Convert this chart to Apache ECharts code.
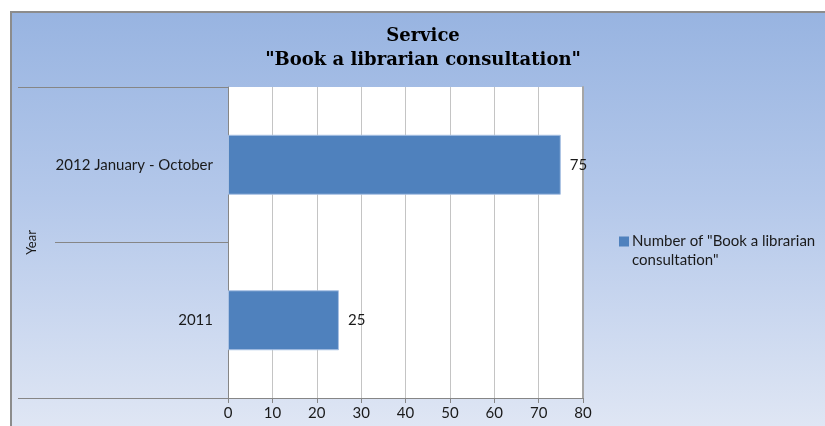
<!DOCTYPE html>
<html>
<head>
<meta charset="utf-8">
<script src="https://cdn.jsdelivr.net/npm/echarts@6/dist/echarts.min.js"></script>
<style>
  html, body { margin: 0; padding: 0; background: #ffffff; }
  #wrap { position: relative; width: 825px; height: 426px; overflow: hidden; background: #fff; }
  #frame { position: absolute; left: 10px; top: 11px; width: 815px; height: 415px;
    border-left: 2px solid #8c8c8c; border-top: 2px solid #8c8c8c; box-sizing: border-box;
    background: linear-gradient(to bottom, #98b4e1 0%, #b4c8ea 45%, #dfe6f4 100%); }
  #chart { position: absolute; left: 0; top: 0; width: 825px; height: 426px; }
</style>
</head>
<body>
<div id="wrap"><div id="frame"></div><div id="chart"></div></div>
<script>
const categories = ['2011', '2012 January - October'];
const seriesName = 'Number of "Book a librarian\nconsultation"';
const values = [25, 75];
const xTicks = { min: 0, max: 80, interval: 10 };
const titleText = 'Service\n"Book a librarian consultation"';
const axisName = 'Year';

const lblFont = 'Lato, "Open Sans", sans-serif';
const chart = echarts.init(document.getElementById('chart'), null, { renderer: 'canvas' });
chart.setOption({
  backgroundColor: 'transparent',
  animation: false,
  title: {
    text: titleText,
    left: 423, top: 24, textAlign: 'center', padding: 0,
    textStyle: { fontFamily: '"DejaVu Serif", "Liberation Serif", serif', fontWeight: 'bold', fontSize: 18, lineHeight: 24, color: '#000' }
  },
  legend: {
    orient: 'vertical', left: 614, top: 208,
    itemWidth: 10, itemHeight: 10, itemGap: 6,
    icon: 'rect',
    itemStyle: { borderWidth: 0, color: '#4f81bd' },
    formatter: function (name) { return ' \n' + name; },
    textStyle: { fontFamily: lblFont, fontSize: 15, lineHeight: 19, color: '#1a1a1a', padding: [0,0,0,-2] },
    data: [seriesName]
  },
  grid: { left: 228, right: 242, top: 87, bottom: 28, containLabel: false,
    show: true, backgroundColor: '#ffffff', borderWidth: 0 },
  xAxis: {
    type: 'value', min: xTicks.min, max: xTicks.max, interval: xTicks.interval,
    axisLine: { show: true, lineStyle: { color: '#868686', width: 1 } },
    axisTick: { show: true, length: 5, lineStyle: { color: '#868686' } },
    splitLine: { show: true, lineStyle: { color: '#c4c4c4', width: 1 } },
    axisLabel: { margin: 8, fontFamily: lblFont, fontSize: 15, color: '#1a1a1a' }
  },
  yAxis: [{
    type: 'category', data: categories,
    name: axisName, nameLocation: 'middle', nameRotate: 90, nameGap: 190,
    nameTextStyle: { fontFamily: lblFont, fontSize: 13, color: '#1a1a1a' },
    axisLine: { show: true, lineStyle: { color: '#868686', width: 1 } },
    axisTick: { show: false },
    axisLabel: { margin: 15, fontFamily: lblFont, fontSize: 15, color: '#1a1a1a' }
  }, {
    type: 'value', min: 0, max: 2, interval: 2, position: 'left',
    axisLine: { show: false }, axisLabel: { show: false }, splitLine: { show: false },
    axisTick: { show: true, length: 210, lineStyle: { color: '#868686' } }
  }, {
    type: 'value', min: 0, max: 2, interval: 1, position: 'left',
    axisLine: { show: false }, axisLabel: { show: false }, splitLine: { show: false },
    axisTick: { show: true, length: 173, lineStyle: { color: '#868686' } }
  }, {
    type: 'value', min: 0, max: 2, interval: 2, position: 'right',
    axisLine: { show: true, lineStyle: { color: '#a6a6a6', width: 2 } },
    axisLabel: { show: false }, splitLine: { show: false }, axisTick: { show: false }
  }],
  series: [{
    name: seriesName, type: 'bar', data: values, yAxisIndex: 0,
    barWidth: 60,
    itemStyle: { color: '#4f81bd', borderColor: '#a9c1e3', borderWidth: 1 },
    label: { show: true, position: 'right', distance: 9, fontFamily: lblFont, fontSize: 15, color: '#1a1a1a' }
  }, {
    type: 'bar', data: [], yAxisIndex: 1
  }, {
    type: 'bar', data: [], yAxisIndex: 2
  }, {
    type: 'bar', data: [], yAxisIndex: 3
  }]
});
</script>
</body>
</html>
